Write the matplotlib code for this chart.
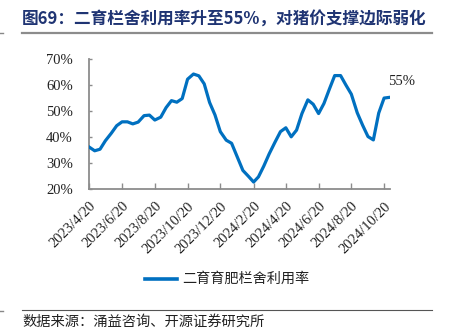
import calendar
import datetime as dt
import matplotlib
matplotlib.use("Agg")
import matplotlib.pyplot as plt
import matplotlib.dates as mdates
from matplotlib.lines import Line2D

# ---- data ----
series_name = "二育育肥栏舍利用率"
title_text = "图69：二育栏舍利用率升至55%，对猪价支撑边际弱化"
source_text = "数据来源：涌益咨询、开源证券研究所"
end_label = "55%"

# ten-day (旬) dates from 2023/4/20 to 2024/10/31
dates = [dt.date(2023, 4, 20), dt.date(2023, 4, 30)]
y, m = 2023, 5
while (y, m) <= (2024, 10):
    dates += [dt.date(y, m, 10), dt.date(y, m, 20),
              dt.date(y, m, calendar.monthrange(y, m)[1])]
    m += 1
    if m > 12:
        y, m = y + 1, 1

utilization = [36.0, 34.6, 35.2, 38.5, 41.4, 44.3, 45.8, 45.8, 45.0, 45.7,
               48.2, 48.4, 46.5, 47.6, 51.3, 54.0, 53.4, 54.8, 62.3, 64.3,
               63.6, 60.5, 53.3, 48.5, 42.0, 38.7, 37.5, 32.5, 27.0, 24.8,
               22.5, 24.5, 28.7, 33.4, 38.0, 42.0, 43.5, 40.0, 42.6, 49.0,
               54.3, 52.6, 49.0, 52.9, 58.4, 63.7, 63.7, 60.0, 56.5, 49.3,
               44.5, 40.1, 38.8, 49.2, 55.0, 55.3]

tick_dates = [dt.date(2023, 4, 20), dt.date(2023, 6, 20), dt.date(2023, 8, 20),
              dt.date(2023, 10, 20), dt.date(2023, 12, 20), dt.date(2024, 2, 20),
              dt.date(2024, 4, 20), dt.date(2024, 6, 20), dt.date(2024, 8, 20),
              dt.date(2024, 10, 20)]
tick_labels = ["2023/4/20", "2023/6/20", "2023/8/20", "2023/10/20", "2023/12/20",
               "2024/2/20", "2024/4/20", "2024/6/20", "2024/8/20", "2024/10/20"]
y_ticks = [20, 30, 40, 50, 60, 70]

# ---- style ----
W, H = 450, 335
DPI = 100
CJK = ["Noto Sans CJK SC", "DejaVu Sans"]
SERIF = "Liberation Serif"
blue = "#0070C0"
axis_gray = "#8C8C8C"

fig = plt.figure(figsize=(W / DPI, H / DPI), dpi=DPI)
fig.patch.set_facecolor("white")

ax = fig.add_axes([89.3 / W, 1 - 188.5 / H, (390 - 89.3) / W, (188.5 - 59.3) / H])
ax.plot(dates, utilization, color=blue, lw=2.3, solid_joinstyle="round", zorder=3)

ax.set_xlim(dates[0], dates[-1])
ax.set_ylim(20, 70)
ax.set_yticks(y_ticks)
ax.set_yticklabels([f"{v}%" for v in y_ticks], fontfamily=SERIF, fontsize=10.5,
                   color="#222222")
ax.set_xticks(tick_dates)
ax.set_xticklabels(tick_labels, rotation=45, ha="right", fontfamily=SERIF,
                   fontsize=10.5, color="#222222", rotation_mode="anchor")
ax.tick_params(axis="y", direction="in", length=2.5, width=1, color=axis_gray, pad=12)
ax.tick_params(axis="x", direction="in", length=4, width=1, color=axis_gray, pad=8)
for s in ["top", "right"]:
    ax.spines[s].set_visible(False)
for s in ["left", "bottom"]:
    ax.spines[s].set_color(axis_gray)
    ax.spines[s].set_linewidth(1.3)

ax.annotate(end_label, xy=(dates[-1], utilization[-1]), xytext=(8, 7),
            textcoords="offset points", ha="center", va="bottom",
            fontfamily=SERIF, fontsize=10.5, color="#222222", annotation_clip=False)

# legend
fig.add_artist(Line2D([145 / W, 177 / W], [1 - 279 / H] * 2, color=blue, lw=2.6))
fig.text(182 / W, 1 - 279 / H, series_name, family=CJK, fontsize=10.2,
         color="#222222", va="center", ha="left")

# title and rules
fig.text(22 / W, 1 - 19.5 / H, title_text, family=CJK, fontsize=12.0,
         fontweight="bold", color="#1F3473", va="center", ha="left")
fig.add_artist(Line2D([22 / W, 432 / W], [1 - 32.5 / H] * 2, color="#8C8C8C", lw=1.6))
fig.add_artist(Line2D([22 / W, 432 / W], [1 - 310 / H] * 2, color="#555555", lw=0.8))
fig.text(22 / W, 1 - 322 / H, source_text, family=CJK, fontsize=10.3,
         color="#222222", va="center", ha="left")

# small page marks at left edge
fig.add_artist(Line2D([0, 3 / W], [1 - 32.5 / H] * 2, color="#888888", lw=1))
fig.add_artist(Line2D([0, 3 / W], [1 - 310.5 / H] * 2, color="#888888", lw=1))

fig.savefig("out.png", dpi=DPI, facecolor="white")
